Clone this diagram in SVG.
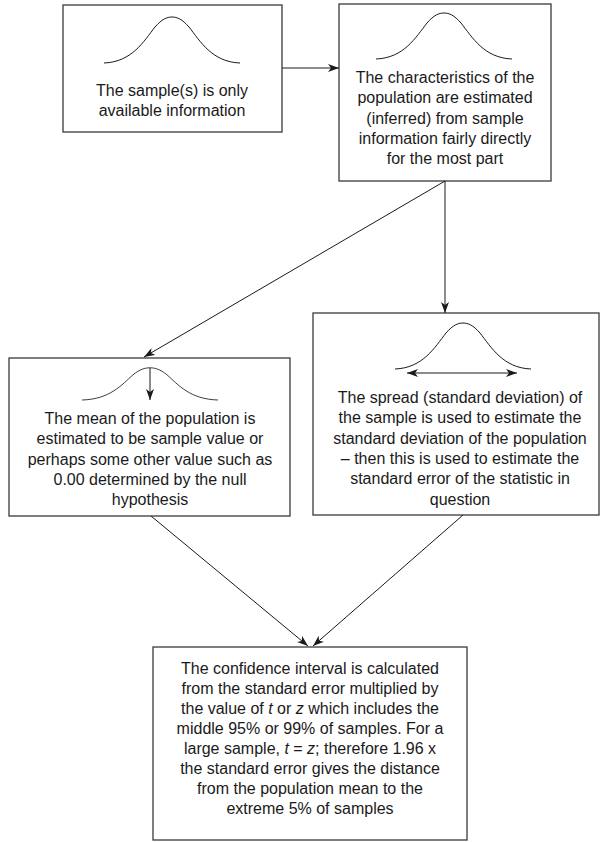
<svg xmlns="http://www.w3.org/2000/svg" xmlns:xlink="http://www.w3.org/1999/xlink" width="601" height="842" viewBox="0 0 601 842">
<style>
.box{fill:#fff;stroke:#3a3a3a;stroke-width:1.3}
.curve{fill:none;stroke:#1a1a1a;stroke-width:1}
.conn{fill:none;stroke:#1a1a1a;stroke-width:1}
text{font-family:"Liberation Sans",Arial,Helvetica,sans-serif;font-size:16px;fill:#1a1a1a;text-anchor:middle}
.it{font-style:italic}
</style>
<defs>
<marker id="ah" viewBox="0 0 11 8" refX="11" refY="4" markerWidth="11" markerHeight="8" markerUnits="userSpaceOnUse" orient="auto-start-reverse">
<path d="M0,0 L11,4 L0,8 L3,4 z" fill="#1a1a1a"/>
</marker>
<path id="bell" d="M-68,0 C-40,-1 -28,-22 -17,-36 C-10,-44 -5,-46 0,-46 C5,-46 10,-44 17,-36 C28,-22 40,-1 68,0"/>
</defs>
<rect width="601" height="842" fill="#fff"/>

<g id="node-sample">
<rect class="box" x="63" y="5" width="219" height="127"/>
<use xlink:href="#bell" href="#bell" class="curve" transform="translate(172,63)"/>
<text x="172" y="96">The sample(s) is only</text>
<text x="172" y="116">available information</text>
</g>

<g id="node-population">
<rect class="box" x="339" y="4" width="212" height="177"/>
<use xlink:href="#bell" href="#bell" class="curve" transform="translate(444,59)"/>
<text x="445" y="83">The characteristics of the</text>
<text x="445" y="103.3">population are estimated</text>
<text x="445" y="123.6">(inferred) from sample</text>
<text x="445" y="144">information fairly directly</text>
<text x="445" y="164.3">for the most part</text>
</g>

<g id="node-mean">
<rect class="box" x="9" y="358" width="281" height="158"/>
<use xlink:href="#bell" href="#bell" class="curve" transform="translate(150,400) scale(1,0.7)"/>
<line class="conn" x1="150" y1="368" x2="150" y2="400" marker-end="url(#ah)"/>
<text x="150" y="424">The mean of the population is</text>
<text x="150" y="444.3">estimated to be sample value or</text>
<text x="150" y="464.6">perhaps some other value such as</text>
<text x="150" y="485">0.00 determined by the null</text>
<text x="150" y="505.3">hypothesis</text>
</g>

<g id="node-spread">
<rect class="box" x="313" y="313" width="286" height="202"/>
<use xlink:href="#bell" href="#bell" class="curve" transform="translate(463,369)"/>
<line class="conn" x1="407" y1="373" x2="517" y2="373" marker-start="url(#ah)" marker-end="url(#ah)"/>
<text x="460" y="403">The spread (standard deviation) of</text>
<text x="460" y="423.3">the sample is used to estimate the</text>
<text x="460" y="443.6">standard deviation of the population</text>
<text x="460" y="464">– then this is used to estimate the</text>
<text x="460" y="484.3">standard error of the statistic in</text>
<text x="460" y="504.6">question</text>
</g>

<g id="node-ci">
<rect class="box" x="153" y="647" width="314" height="193"/>
<text x="310" y="674">The confidence interval is calculated</text>
<text x="310" y="694">from the standard error multiplied by</text>
<text x="310" y="714">the value of <tspan class="it">t</tspan> or <tspan class="it">z</tspan> which includes the</text>
<text x="310" y="734">middle 95% or 99% of samples. For a</text>
<text x="310" y="754">large sample, <tspan class="it">t</tspan> = <tspan class="it">z</tspan>; therefore 1.96 x</text>
<text x="310" y="774">the standard error gives the distance</text>
<text x="310" y="794">from the population mean to the</text>
<text x="310" y="814">extreme 5% of samples</text>
</g>

<g id="connectors">
<line class="conn" x1="282" y1="68" x2="339" y2="68" marker-end="url(#ah)"/>
<line class="conn" x1="445" y1="181" x2="144" y2="357" marker-end="url(#ah)"/>
<line class="conn" x1="445" y1="181" x2="445" y2="313" marker-end="url(#ah)"/>
<line class="conn" x1="151" y1="516" x2="308" y2="646" marker-end="url(#ah)"/>
<line class="conn" x1="463" y1="515" x2="313" y2="646" marker-end="url(#ah)"/>
</g>
</svg>
